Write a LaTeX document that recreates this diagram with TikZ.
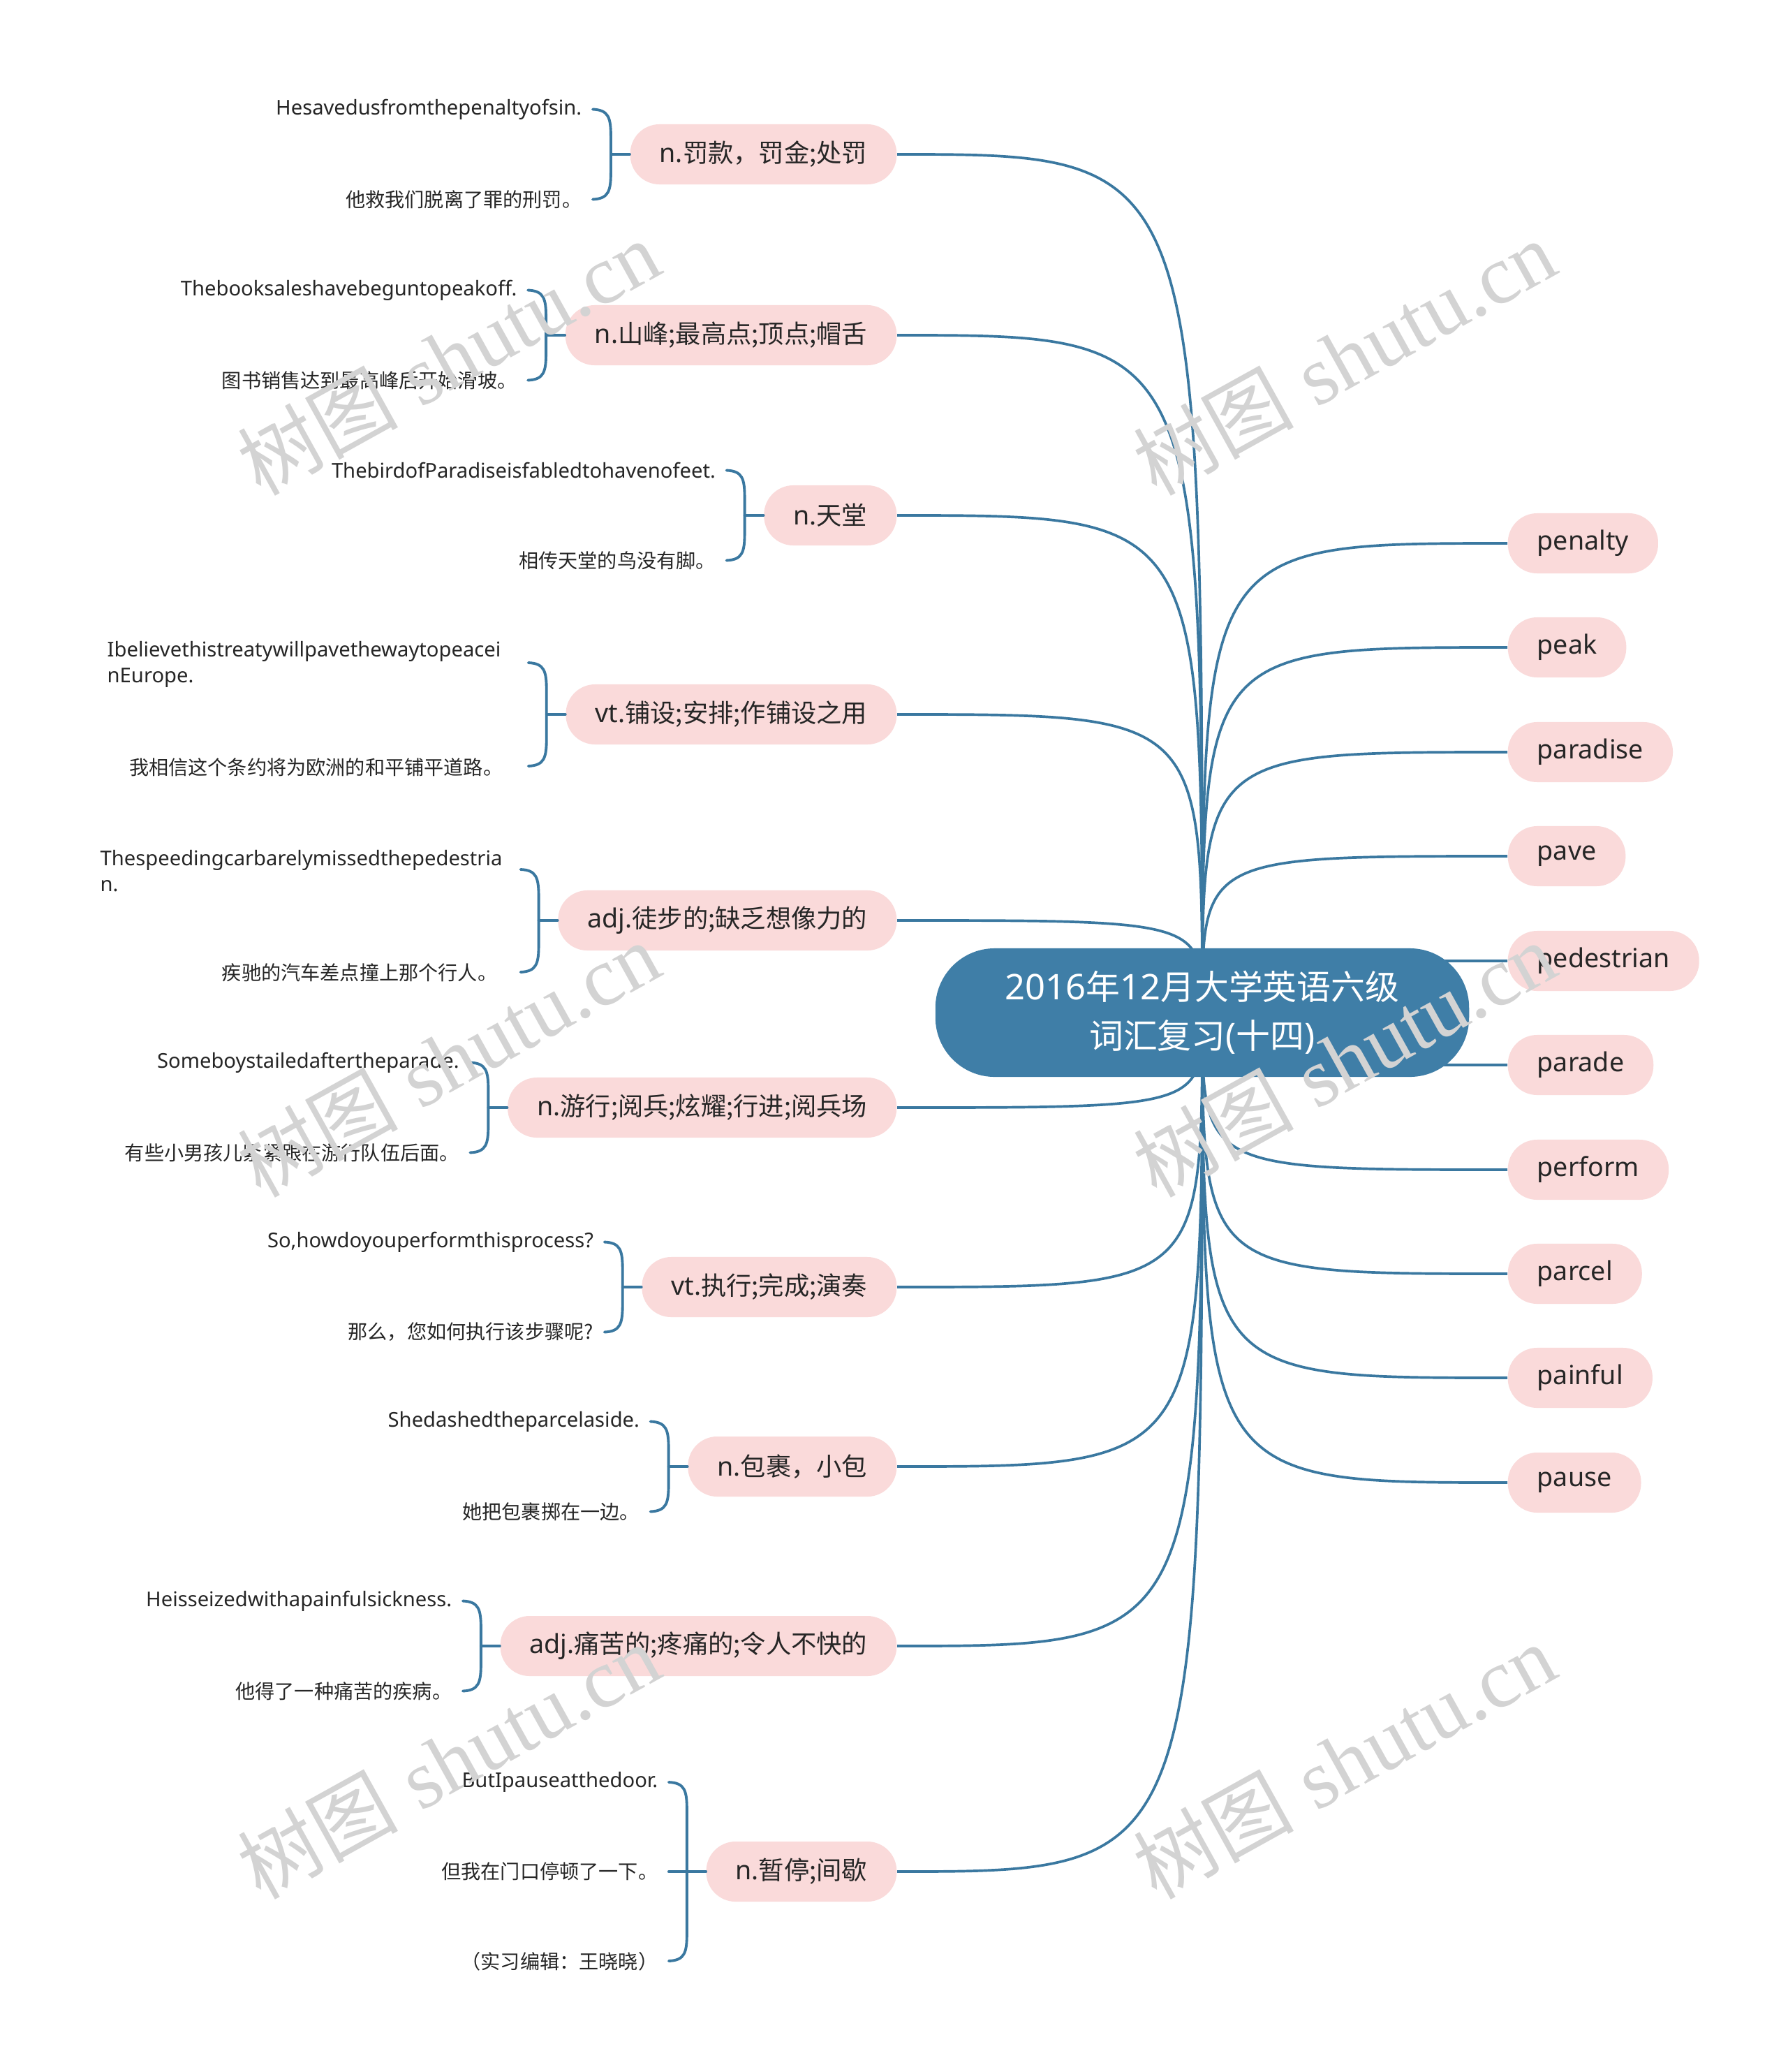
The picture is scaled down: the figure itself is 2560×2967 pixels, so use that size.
\documentclass[tikz,border=0pt]{standalone}
\usepackage{fontspec}
\setmainfont{Noto Sans}
\newfontfamily\cjk{Noto Sans CJK SC}[Scale=0.965]
\newfontfamily\wmfont{Liberation Serif}
\usetikzlibrary{calc}
\definecolor{linec}{HTML}{3A78A0}
\definecolor{rootc}{HTML}{3F7EA7}
\definecolor{pinkc}{HTML}{FADADA}
\definecolor{txtc}{HTML}{262626}
\definecolor{wmc}{HTML}{D3D3D3}
\pgfdeclarelayer{bg}\pgfdeclarelayer{fg}\pgfsetlayers{bg,main,fg}
\tikzset{
  conn/.style={draw=linec, line width=1.05pt},
  bconn/.style={draw=linec, line width=1.1pt, line cap=round},
  root/.style={fill=rootc, rounded corners=0.85cm, minimum width=7.64cm, minimum height=1.84cm,
    text=white, align=center, inner sep=0pt, font=\fontsize{14.4pt}{19.9pt}\selectfont},
  topic/.style={fill=pinkc, rounded corners=0.42cm, minimum height=0.86cm, inner xsep=0.42cm,
    inner ysep=0pt, text=txtc, font=\fontsize{10.7pt}{13pt}\selectfont},
  sent/.style={text=txtc, inner sep=0pt, align=left, font=\fontsize{8.3pt}{10.5pt}\selectfont},
  wm/.style={text=wmc, rotate=29, inner sep=0pt, font=\fontsize{34pt}{40pt}\selectfont}
}
\newcommand\mybrace[3]{%
  \draw[bconn] (#1.west) -- ($(#1.west)+(-27,0)$);
  \draw[bconn] ($(#1.west)+(-53,#2)$) .. controls ($(#1.west)+(-30,#2+1)$) and ($(#1.west)+(-27,#2+12)$) .. ($(#1.west)+(-27,#2+40)$)
     -- ($(#1.west)+(-27,#3-40)$) .. controls ($(#1.west)+(-27,#3-12)$) and ($(#1.west)+(-30,#3-1)$) .. ($(#1.west)+(-53,#3)$);
}
\begin{document}
\begin{tikzpicture}[x=0.01cm,y=-0.01cm]
\begin{pgfonlayer}{bg}
\fill[white] (0,0) rectangle (2560,2967);
\end{pgfonlayer}
\useasboundingbox (0,0) rectangle (2560,2967);

% root
\node[root] (root) at (1722,1450) {2016{\cjk 年}12{\cjk 月大学英语六级}\\{\cjk 词汇复习}({\cjk 十四})};

% left topics
\node[topic, anchor=east] (L1) at (1285,221) {n.{\cjk 罚款，罚金;处罚}};
\node[topic, anchor=east] (L2) at (1285,480) {n.{\cjk 山峰;最高点;顶点;帽舌}};
\node[topic, anchor=east] (L3) at (1285,738) {n.{\cjk 天堂}};
\node[topic, anchor=east] (L4) at (1285,1023) {vt.{\cjk 铺设;安排;作铺设之用}};
\node[topic, anchor=east] (L5) at (1285,1318) {adj.{\cjk 徒步的;缺乏想像力的}};
\node[topic, anchor=east] (L6) at (1285,1586) {n.{\cjk 游行;阅兵;炫耀;行进;阅兵场}};
\node[topic, anchor=east] (L7) at (1285,1843) {vt.{\cjk 执行;完成;演奏}};
\node[topic, anchor=east] (L8) at (1285,2100) {n.{\cjk 包裹，小包}};
\node[topic, anchor=east] (L9) at (1285,2357) {adj.{\cjk 痛苦的;疼痛的;令人不快的}};
\node[topic, anchor=east] (L10) at (1285,2680) {n.{\cjk 暂停;间歇}};

% right topics
\node[topic, anchor=west] (R1) at (2159,778) {penalty};
\node[topic, anchor=west] (R2) at (2159,927) {peak};
\node[topic, anchor=west] (R3) at (2159,1077) {paradise};
\node[topic, anchor=west] (R4) at (2159,1226) {pave};
\node[topic, anchor=west] (R5) at (2159,1376) {pedestrian};
\node[topic, anchor=west] (R6) at (2159,1525) {parade};
\node[topic, anchor=west] (R7) at (2159,1675) {perform};
\node[topic, anchor=west] (R8) at (2159,1824) {parcel};
\node[topic, anchor=west] (R9) at (2159,1973) {painful};
\node[topic, anchor=west] (R10) at (2159,2123) {pause};

% main connectors
\begin{pgfonlayer}{bg}
\foreach \n in {L1,L2,L3,L4,L5,L6,L7,L8,L9,L10}
  \draw[conn] (root.center) .. controls (root.center |- \n.east) .. (\n.east);
\foreach \n in {R1,R2,R3,R4,R5,R6,R7,R8,R9,R10}
  \draw[conn] (root.center) .. controls (root.center |- \n.west) .. (\n.west);
\end{pgfonlayer}

% sentences
\node[sent, anchor=east] (e1) at ($(L1.west)+(-68,-64.5)$) {Hesavedusfromthepenaltyofsin.};
\node[sent, anchor=east] (z1) at ($(L1.west)+(-68,64.5)$) {\cjk 他救我们脱离了罪的刑罚。};
\mybrace{L1}{-64.5}{64.5}

\node[sent, anchor=east] (e2) at ($(L2.west)+(-68,-64.5)$) {Thebooksaleshavebeguntopeakoff.};
\node[sent, anchor=east] (z2) at ($(L2.west)+(-68,64.5)$) {\cjk 图书销售达到最高峰后开始滑坡。};
\mybrace{L2}{-64.5}{64.5}

\node[sent, anchor=east] (e3) at ($(L3.west)+(-68,-64.5)$) {ThebirdofParadiseisfabledtohavenofeet.};
\node[sent, anchor=east] (z3) at ($(L3.west)+(-68,64.5)$) {\cjk 相传天堂的鸟没有脚。};
\mybrace{L3}{-64.5}{64.5}

\node[sent, anchor=west] (e4) at (153,951) {Ibelievethistreatywillpavethewaytopeacei\\nEurope.};
\node[sent, anchor=east] (z4) at (721,1099) {\cjk 我相信这个条约将为欧洲的和平铺平道路。};
\mybrace{L4}{-74}{74}

\node[sent, anchor=west] (e5) at (143,1247) {Thespeedingcarbarelymissedthepedestria\\n.};
\node[sent, anchor=east] (z5) at (713,1393) {\cjk 疾驰的汽车差点撞上那个行人。};
\mybrace{L5}{-73}{74}

\node[sent, anchor=east] (e6) at ($(L6.west)+(-68,-64.5)$) {Someboystailedaftertheparade.};
\node[sent, anchor=east] (z6) at ($(L6.west)+(-68,64.5)$) {\cjk 有些小男孩儿紧紧跟在游行队伍后面。};
\mybrace{L6}{-64.5}{64.5}

\node[sent, anchor=east] (e7) at ($(L7.west)+(-68,-64.5)$) {So,howdoyouperformthisprocess?};
\node[sent, anchor=east] (z7) at ($(L7.west)+(-68,64.5)$) {\cjk 那么，您如何执行该步骤呢?};
\mybrace{L7}{-64.5}{64.5}

\node[sent, anchor=east] (e8) at ($(L8.west)+(-68,-64.5)$) {Shedashedtheparcelaside.};
\node[sent, anchor=east] (z8) at ($(L8.west)+(-68,64.5)$) {\cjk 她把包裹掷在一边。};
\mybrace{L8}{-64.5}{64.5}

\node[sent, anchor=east] (e9) at ($(L9.west)+(-68,-64.5)$) {Heisseizedwithapainfulsickness.};
\node[sent, anchor=east] (z9) at ($(L9.west)+(-68,64.5)$) {\cjk 他得了一种痛苦的疾病。};
\mybrace{L9}{-64.5}{64.5}

\node[sent, anchor=east] (e10) at ($(L10.west)+(-68,-128)$) {ButIpauseatthedoor.};
\node[sent, anchor=east] (z10) at ($(L10.west)+(-68,0)$) {\cjk 但我在门口停顿了一下。};
\node[sent, anchor=east] (n10) at ($(L10.west)+(-68,129)$) {\cjk （实习编辑：王晓晓）};
\mybrace{L10}{-128}{128}
\draw[bconn] ($(L10.west)+(-53,0)$) -- (L10.west);

% watermarks
\begin{pgfonlayer}{fg}
\node[wm] (w1) at (642,512) {{\cjk 树图} {\wmfont shutu.cn}};
\node[wm] (w2) at (1925,512) {{\cjk 树图} {\wmfont shutu.cn}};
\node[wm] (w3) at (642,1517) {{\cjk 树图} {\wmfont shutu.cn}};
\node[wm] (w4) at (1925,1517) {{\cjk 树图} {\wmfont shutu.cn}};
\node[wm] (w5) at (642,2522) {{\cjk 树图} {\wmfont shutu.cn}};
\node[wm] (w6) at (1925,2522) {{\cjk 树图} {\wmfont shutu.cn}};
\end{pgfonlayer}
\end{tikzpicture}
\end{document}
